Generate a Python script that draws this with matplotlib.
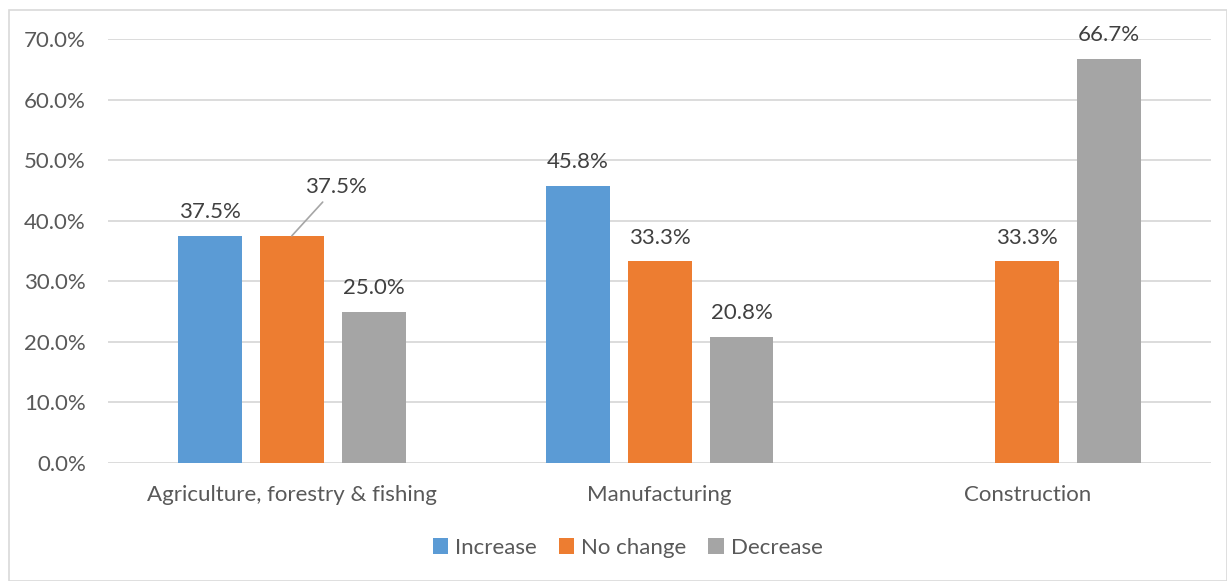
import matplotlib.pyplot as plt
import numpy as np
from matplotlib.patches import Rectangle

plt.rcParams['font.family'] = ['Lato', 'DejaVu Sans']

categories = ["Agriculture, forestry & fishing", "Manufacturing", "Construction"]
series = ["Increase", "No change", "Decrease"]
increase = [37.5, 45.8, np.nan]
no_change = [37.5, 33.3, 33.3]
decrease = [25.0, 20.8, 66.7]
colors = ["#5b9bd5", "#ed7d31", "#a5a5a5"]

fig = plt.figure(figsize=(12.27, 5.81), dpi=100)
ax = fig.add_axes([0.088, 0.2031, 0.899, 0.7298])

# border round the whole chart
fig.patches.append(Rectangle((9 / 1227, 0), 1 - 9 / 1227, 1 - 10 / 581,
                             transform=fig.transFigure, fill=False,
                             edgecolor="#d9d9d9", lw=1.2))

fs = 16
x = np.arange(len(categories))
w = 0.174
step = 0.223
for i, (vals, name) in enumerate(zip([increase, no_change, decrease], series)):
    pos = x + (i - 1) * step
    ax.bar(pos, vals, width=w, color=colors[i], label=name, zorder=3)
    for p, v in zip(pos, vals):
        if np.isnan(v):
            continue
        if i == 1 and p < 0.5:
            # label pulled up with a leader line
            ax.annotate(f"{v:.1f}%", xy=(p, v), xytext=(32, 35),
                        textcoords="offset points",
                        ha="center", va="center", fontsize=fs, color="#404040",
                        arrowprops=dict(arrowstyle="-", color="#a6a6a6", lw=1.2,
                                        shrinkA=2, shrinkB=0))
        else:
            ax.annotate(f"{v:.1f}%", xy=(p, v), xytext=(0, 17),
                        textcoords="offset points",
                        ha="center", va="center", fontsize=fs, color="#404040")

ax.set_xlim(-0.5, 2.5)
ax.set_ylim(0, 70)
ax.set_yticks(np.arange(0, 71, 10))
ax.set_yticklabels([f"{t:.1f}%" for t in np.arange(0, 71, 10)])
ax.set_xticks(x)
ax.set_xticklabels(categories)
ax.tick_params(axis="both", length=0, labelsize=fs, labelcolor="#595959")
ax.tick_params(axis="y", pad=16)
ax.tick_params(axis="x", pad=16)
ax.grid(axis="y", color="#d9d9d9", lw=1.3, zorder=0)
for s in ax.spines.values():
    s.set_visible(False)

ax.legend(loc="center", bbox_to_anchor=(0.471, -0.2005), ncol=3, frameon=False,
          fontsize=fs, labelcolor="#595959", handlelength=0.7, handleheight=0.7,
          handletextpad=0.3, columnspacing=1.0)

fig.savefig("out.png", dpi=100)
